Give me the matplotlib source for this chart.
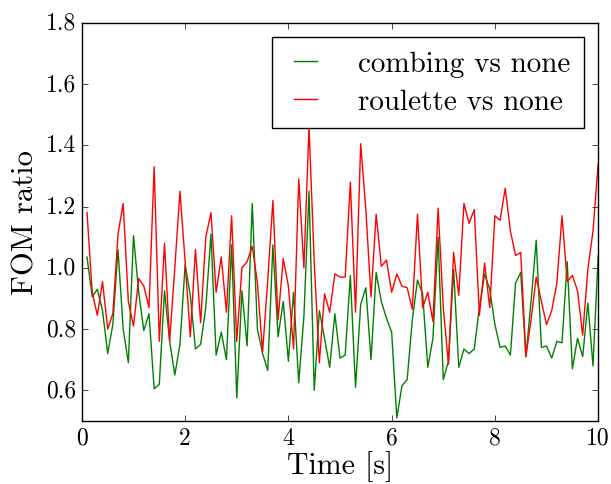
import matplotlib
matplotlib.use("Agg")
import matplotlib.pyplot as plt
import numpy as np

plt.style.use('classic')
plt.rcParams['font.family'] = ['cmr10', 'DejaVu Serif']
plt.rcParams['axes.formatter.use_mathtext'] = True

time = [round(0.1 * i, 1) for i in range(1, 101)]

combing = [1.035, 0.905, 0.93, 0.86, 0.72, 0.815, 1.06, 0.80, 0.69, 1.105,
           0.92, 0.795, 0.85, 0.605, 0.62, 0.925, 0.76, 0.65, 0.75, 1.01,
           0.91, 0.735, 0.75, 0.87, 1.11, 0.715, 0.79, 0.70, 1.075, 0.575,
           0.925, 0.745, 1.21, 0.80, 0.72, 0.665, 1.075, 0.775, 0.89, 0.695,
           0.92, 0.625, 0.84, 1.25, 0.60, 0.86, 0.77, 0.675, 0.85, 0.705,
           0.715, 0.975, 0.61, 0.88, 0.935, 0.70, 0.985, 0.89, 0.835, 0.79,
           0.51, 0.615, 0.635, 0.83, 0.96, 0.915, 0.675, 0.77, 1.10, 0.635,
           0.695, 0.995, 0.675, 0.735, 0.72, 0.735, 0.87, 0.98, 0.93, 0.815,
           0.74, 0.745, 0.715, 0.95, 0.985, 0.71, 0.89, 1.09, 0.74, 0.745,
           0.705, 0.76, 0.755, 1.02, 0.67, 0.77, 0.71, 0.885, 0.68, 1.04]

roulette = [1.18, 0.92, 0.845, 0.955, 0.80, 0.85, 1.11, 1.21, 0.89, 0.81,
            0.965, 0.94, 0.87, 1.33, 0.76, 1.08, 0.76, 1.00, 1.25, 1.02,
            0.775, 1.06, 0.82, 1.10, 1.18, 0.92, 1.035, 0.855, 1.17, 0.76,
            1.00, 1.02, 1.07, 0.95, 0.725, 0.96, 1.22, 0.83, 1.03, 0.94,
            0.735, 1.29, 1.00, 1.46, 1.02, 0.69, 0.915, 0.855, 0.98, 0.97,
            0.97, 1.28, 0.855, 1.405, 1.19, 0.905, 1.175, 1.005, 1.025, 0.92,
            0.98, 0.94, 0.935, 0.865, 1.175, 0.87, 0.92, 0.825, 1.195, 0.87,
            0.685, 1.05, 0.91, 1.21, 1.145, 1.19, 0.845, 1.015, 0.87, 1.17,
            1.155, 1.26, 1.12, 1.04, 1.05, 0.71, 0.83, 0.97, 0.89, 0.815,
            0.86, 0.95, 1.17, 0.955, 0.975, 0.925, 0.78, 0.995, 1.12, 1.34]

xticks = [0, 2, 4, 6, 8, 10]
yticks = [0.6, 0.8, 1.0, 1.2, 1.4, 1.6, 1.8]

fig = plt.figure(figsize=(6.11, 4.85), dpi=100, facecolor='white')
ax = fig.add_axes([0.134, 0.130, 0.845, 0.821])
ax.plot(time, combing, color='g', lw=1, label='combing vs none')
ax.plot(time, roulette, color='r', lw=1, label='roulette vs none')
ax.set_xlim(0, 10)
ax.set_ylim(0.5, 1.8)
ax.set_xticks(xticks)
ax.set_xticklabels([str(t) for t in xticks])
ax.set_yticks(yticks)
ax.set_yticklabels([f'{t:.1f}' for t in yticks])
ax.tick_params(labelsize=17)
ax.set_xlabel('Time [s]', fontsize=21.5, labelpad=1)
ax.set_ylabel('FOM ratio', fontsize=22, labelpad=5)
leg = ax.legend(loc='upper right', fontsize=21, handlelength=1.4, handletextpad=1.1,
                borderaxespad=0.5, labelspacing=0.4, borderpad=0.45)
fig.savefig('out.png', dpi=100, facecolor='white')
